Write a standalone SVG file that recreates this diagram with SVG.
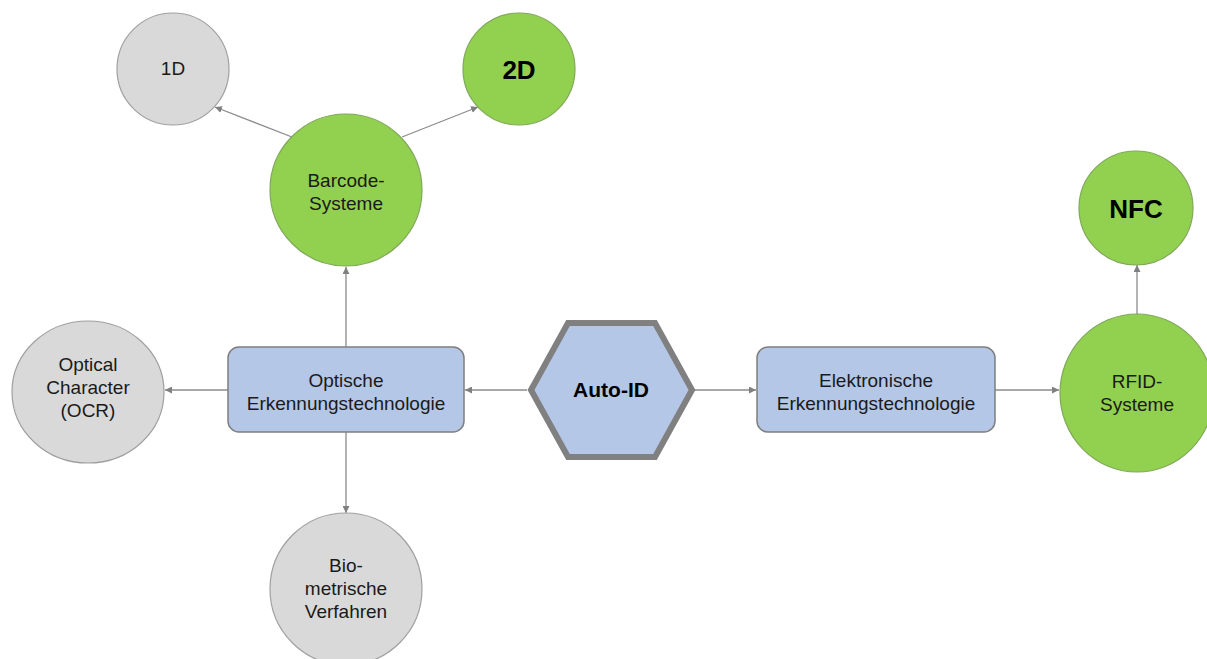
<svg xmlns="http://www.w3.org/2000/svg" width="1207" height="659" viewBox="0 0 1207 659">
  <defs>
    <marker id="arrow" viewBox="0 0 10 10" refX="10" refY="5" markerWidth="7" markerHeight="7" markerUnits="userSpaceOnUse" orient="auto">
      <path d="M0,0 L10,5 L0,10 z" fill="#808080"/>
    </marker>
    <style>
      text { font-family: "Liberation Sans", Arial, sans-serif; fill: #1a1a1a; text-anchor: middle; }
      .t { font-size: 19px; }
      .big { font-size: 26px; font-weight: bold; fill: #000; }
      .gray { fill: #d9d9d9; stroke: #a0a0a0; stroke-width: 1.2; }
      .green { fill: #92d050; stroke: #7fa85a; stroke-width: 1.2; }
      .box { fill: #b4c7e7; stroke: #7f7f7f; stroke-width: 1.5; }
      .hex { fill: #b4c7e7; stroke: #808080; stroke-width: 6; stroke-linejoin: miter; }
      .conn line { stroke: #8c8c8c; stroke-width: 1.3; marker-end: url(#arrow); }
    </style>
  </defs>
  <rect width="1207" height="659" fill="#ffffff"/>

  <!-- connectors -->
  <g id="connectors" class="conn">
    <line x1="292" y1="137" x2="215" y2="107"/>
    <line x1="402" y1="137" x2="478" y2="107"/>
    <line x1="346" y1="347" x2="346" y2="267"/>
    <line x1="346" y1="432" x2="346" y2="513"/>
    <line x1="228" y1="390" x2="165" y2="390"/>
    <line x1="527" y1="390" x2="465" y2="390"/>
    <line x1="694" y1="390" x2="756" y2="390"/>
    <line x1="995" y1="390" x2="1059" y2="390"/>
    <line x1="1137" y1="314" x2="1137" y2="265"/>
  </g>

  <g id="node-1d">
    <circle class="gray" cx="173" cy="69" r="56"/>
    <text class="t" x="173" y="75">1D</text>
  </g>

  <g id="node-2d">
    <circle class="green" cx="519" cy="69" r="56"/>
    <text class="big" x="519" y="79">2D</text>
  </g>

  <g id="node-barcode">
    <circle class="green" cx="346" cy="190" r="76"/>
    <text class="t" x="346" y="187">Barcode-</text>
    <text class="t" x="346" y="210">Systeme</text>
  </g>

  <g id="node-ocr">
    <ellipse class="gray" cx="88" cy="392" rx="76" ry="71"/>
    <text class="t" x="88" y="371">Optical</text>
    <text class="t" x="88" y="394">Character</text>
    <text class="t" x="88" y="417">(OCR)</text>
  </g>

  <g id="node-optisch">
    <rect class="box" x="228" y="347" width="236" height="85" rx="11"/>
    <text class="t" x="346" y="387">Optische</text>
    <text class="t" x="346" y="410">Erkennungstechnologie</text>
  </g>

  <g id="node-autoid">
    <polygon class="hex" points="531,390 568,323 655,323 692,390 655,457 568,457"/>
    <text x="611" y="397" style="font-size:21px;font-weight:bold;fill:#000">Auto-ID</text>
  </g>

  <g id="node-elektronisch">
    <rect class="box" x="757" y="347" width="238" height="85" rx="11"/>
    <text class="t" x="876" y="387">Elektronische</text>
    <text class="t" x="876" y="410">Erkennungstechnologie</text>
  </g>

  <g id="node-rfid">
    <ellipse class="green" cx="1137" cy="393" rx="77" ry="79"/>
    <text class="t" x="1137" y="388">RFID-</text>
    <text class="t" x="1137" y="411">Systeme</text>
  </g>

  <g id="node-nfc">
    <circle class="green" cx="1136" cy="208" r="57"/>
    <text class="big" x="1136" y="218">NFC</text>
  </g>

  <g id="node-bio">
    <circle class="gray" cx="346" cy="589" r="76"/>
    <text class="t" x="346" y="572">Bio-</text>
    <text class="t" x="346" y="595">metrische</text>
    <text class="t" x="346" y="618">Verfahren</text>
  </g>
</svg>
